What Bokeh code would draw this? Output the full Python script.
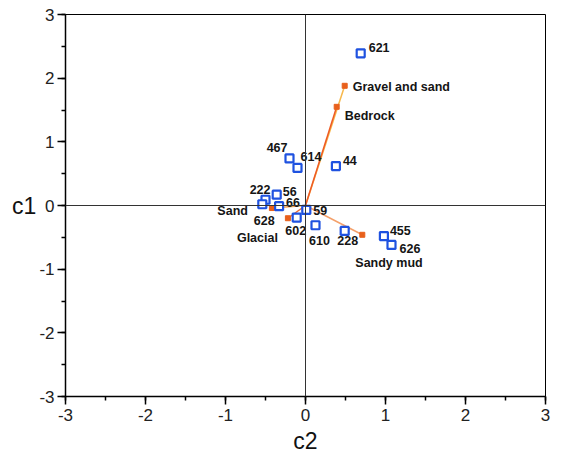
from bokeh.plotting import figure
from bokeh.models import ColumnDataSource, Span, LinearAxis, FixedTicker
from bokeh.embed import file_html
from bokeh.resources import INLINE
from bokeh.core.properties import value

# ---- data ----
sample_names = ["621", "467", "614", "44", "222", "56", "628", "66", "59",
                "602", "610", "228", "455", "626"]
sample_c2 = [0.69, -0.20, -0.10, 0.38, -0.50, -0.36, -0.54, -0.33, 0.01,
             -0.11, 0.125, 0.49, 0.98, 1.075]
sample_c1 = [2.39, 0.74, 0.59, 0.62, 0.09, 0.17, 0.02, -0.01, -0.07,
             -0.19, -0.31, -0.40, -0.48, -0.62]

env_names = ["Gravel and sand", "Bedrock", "Sandy mud", "Glacial", "Sand"]
env_c2 = [0.49, 0.39, 0.71, -0.22, -0.42]
env_c1 = [1.88, 1.55, -0.46, -0.20, -0.04]

tick_vals = [-3, -2, -1, 0, 1, 2, 3]
tick_labels = ["-3", "-2", "-1", "0", "1", "2", "3"]

# ---- label styling (screen offsets) ----
s_dx = [8, -2, 3, 7, 5, 6, 2, 7, 7, -1, 4, 3, 6, 8]
s_dy = [-6, -11, -11, -6, -10, -3, 16, -4, 1, 13, 15, 10, -6, 4]
s_align = ["left", "right", "left", "left", "right", "left", "center", "left",
           "left", "center", "center", "center", "left", "left"]
e_dx = [8, 8, -7, -10, -24]
e_dy = [1, 9, 28, 20, 3]
e_align = ["left", "left", "left", "right", "right"]
env_line_colors = ["#f7b84b", "#ee5a24", "#f4a06a", "#ee6a30", "#f2a050"]

p = figure(width=561, height=460, output_backend="svg", toolbar_location=None,
           x_range=(-3, 3), y_range=(-3, 3),
           min_border_left=65, min_border_right=16, min_border_top=14,
           min_border_bottom=64, x_axis_location=None, y_axis_location=None)
p.grid.visible = False
p.background_fill_color = "white"
p.border_fill_color = "white"
p.outline_line_color = "black"
p.outline_line_width = 1

def style_axis(ax):
    ax.ticker = FixedTicker(ticks=tick_vals,
                            minor_ticks=[v / 2 for v in range(-6, 7)])
    ax.major_label_overrides = {v: t for v, t in zip(tick_vals, tick_labels)}
    ax.axis_line_color = "black"
    ax.axis_line_width = 1.5
    ax.major_tick_line_color = "black"
    ax.major_tick_line_width = 1.5
    ax.minor_tick_line_color = "black"
    ax.minor_tick_line_width = 1.5
    ax.major_tick_in = 0
    ax.major_tick_out = 8
    ax.minor_tick_in = 0
    ax.minor_tick_out = 4
    ax.major_label_text_font = "Liberation Sans"
    ax.major_label_text_font_size = "17px"
    ax.major_label_text_color = "#222222"
    ax.axis_label_text_font = "Liberation Sans"
    ax.axis_label_text_font_size = "23px"
    ax.axis_label_text_font_style = "normal"
    ax.axis_label_text_color = "#111111"

xax = LinearAxis(axis_label="c2")
style_axis(xax)
xax.major_label_standoff = 4
xax.axis_label_standoff = 4
p.add_layout(xax, "below")

yax = LinearAxis(axis_label="c1")
style_axis(yax)
yax.major_label_standoff = 3
yax.axis_label_standoff = 0
yax.axis_label_orientation = "horizontal"
p.add_layout(yax, "left")

p.add_layout(Span(location=0, dimension="width", line_color="#333333", line_width=1))
p.add_layout(Span(location=0, dimension="height", line_color="#333333", line_width=1))

# env vector lines from origin
for i in range(len(env_names)):
    p.line([0, env_c2[i]], [0, env_c1[i]], line_color=env_line_colors[i], line_width=1.5)

env_src = ColumnDataSource(dict(x=env_c2, y=env_c1, name=env_names,
                                dx=e_dx, dy=e_dy, align=e_align))
p.scatter("x", "y", source=env_src, marker="square", size=5,
          fill_color="#e8601c", line_color="#e8601c")

samp_src = ColumnDataSource(dict(x=sample_c2, y=sample_c1, name=sample_names,
                                 dx=s_dx, dy=s_dy, align=s_align))
p.scatter("x", "y", source=samp_src, marker="square", size=8,
          fill_color="white", line_color="#1f52e0", line_width=2.2)

for src in (samp_src, env_src):
    p.text("x", "y", text="name", source=src, x_offset="dx", y_offset="dy",
           text_align="align", text_baseline="middle",
           text_font=value("Liberation Sans"), text_font_style="bold",
           text_font_size="12.5px", text_color="#151515")

open("out.html", "w").write(file_html(p, INLINE))
